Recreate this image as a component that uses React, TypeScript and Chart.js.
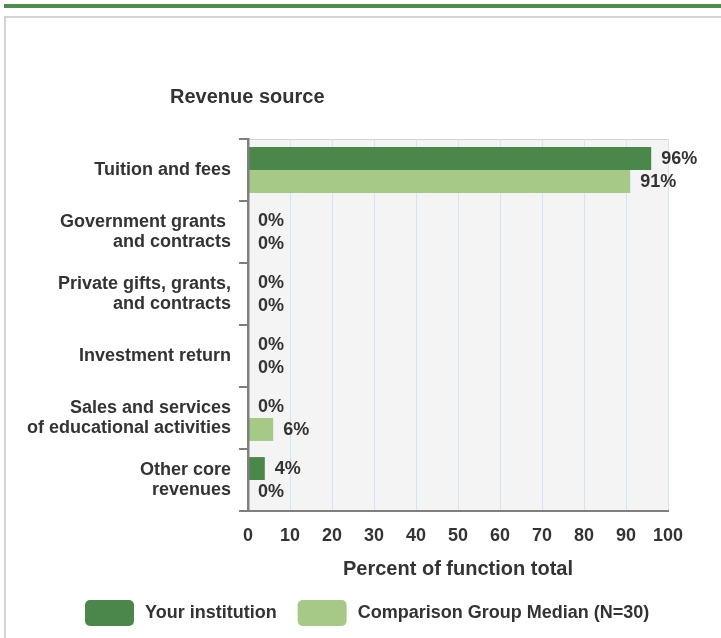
import React, { useEffect, useRef } from "react";
import { Chart, registerables } from "chart.js";

Chart.register(...registerables);

const categories: (string | string[])[] = [
  "Tuition and fees",
  ["Government grants ", "and contracts"],
  ["Private gifts, grants,", "and contracts"],
  "Investment return",
  ["Sales and services", "of educational activities"],
  ["Other core", "revenues"],
];
const institutionValues = [96, 0, 0, 0, 0, 4];
const comparisonValues = [91, 0, 0, 0, 6, 0];
const seriesNames = ["Your institution", "Comparison Group Median (N=30)"];
const xMin = 0;
const xMax = 100;
const xStep = 10;
const chartTitle = "Revenue source";
const axisTitle = "Percent of function total";

const DARK = "#4b874a";
const LIGHT = "#a6c987";
const TEXT = "#333333";
const FONT = "'Liberation Sans', Arial, Helvetica, sans-serif";
const LABEL_SIZE = 18;

export default function App() {
  const ref = useRef<HTMLCanvasElement | null>(null);

  useEffect(() => {
    document.body.style.margin = "0";
    const canvas = ref.current;
    if (!canvas) return;

    const decor = {
      id: "decor",
      beforeDraw(chart: any) {
        const { ctx, chartArea: a } = chart;
        ctx.save();
        ctx.fillStyle = "#f4f4f4";
        ctx.fillRect(a.left, a.top, a.right - a.left, a.bottom - a.top);
        ctx.strokeStyle = "#d2d2d2";
        ctx.lineWidth = 1;
        ctx.beginPath();
        ctx.moveTo(a.left, a.top + 0.5);
        ctx.lineTo(a.right, a.top + 0.5);
        ctx.stroke();
        ctx.restore();
      },
      afterDatasetsDraw(chart: any) {
        const { ctx } = chart;
        ctx.save();
        ctx.font = `bold ${LABEL_SIZE}px ${FONT}`;
        ctx.fillStyle = TEXT;
        ctx.textAlign = "left";
        ctx.textBaseline = "middle";
        chart.data.datasets.forEach((ds: any, di: number) => {
          const meta = chart.getDatasetMeta(di);
          meta.data.forEach((bar: any, i: number) => {
            const v = ds.data[i];
            ctx.fillText(`${v}%`, bar.x + 10, bar.y + 1);
          });
        });
        ctx.restore();
      },
      afterDraw(chart: any) {
        const { ctx } = chart;
        ctx.save();
        ctx.fillStyle = TEXT;
        ctx.font = `bold 20px ${FONT}`;
        ctx.textAlign = "left";
        ctx.textBaseline = "middle";
        ctx.fillText(chartTitle, 170, 97);

        // legend
        ctx.font = `bold ${LABEL_SIZE}px ${FONT}`;
        let x = 85;
        const y = 600;
        chart.data.datasets.forEach((ds: any) => {
          ctx.fillStyle = ds.backgroundColor;
          ctx.beginPath();
          (ctx as any).roundRect(x, y, 49, 26, 5);
          ctx.fill();
          x += 49 + 11;
          ctx.fillStyle = TEXT;
          ctx.fillText(ds.label, x, y + 13);
          x += ctx.measureText(ds.label).width + 21;
        });
        ctx.restore();
      },
    };

    const chart = new Chart(canvas, {
      type: "bar",
      data: {
        labels: categories,
        datasets: [
          {
            label: seriesNames[0],
            data: institutionValues,
            backgroundColor: DARK,
            categoryPercentage: 0.74,
            barPercentage: 1,
          },
          {
            label: seriesNames[1],
            data: comparisonValues,
            backgroundColor: LIGHT,
            categoryPercentage: 0.74,
            barPercentage: 1,
          },
        ],
      },
      options: {
        indexAxis: "y",
        responsive: false,
        animation: false,
        layout: { padding: { left: 0, top: 139, right: 53, bottom: 57 } },
        plugins: {
          legend: { display: false },
          tooltip: { enabled: false },
          title: { display: false },
        },
        scales: {
          x: {
            min: xMin,
            max: xMax,
            ticks: {
              stepSize: xStep,
              color: TEXT,
              font: { family: FONT, size: LABEL_SIZE, weight: "bold" },
              padding: 14,
              maxRotation: 0,
            },
            grid: {
              color: "#d6e4f1",
              lineWidth: 1,
              drawTicks: false,
            },
            border: { display: true, color: "#7f7f7f", width: 2 },
            title: {
              display: true,
              text: axisTitle,
              color: TEXT,
              font: { family: FONT, size: 20, weight: "bold" },
              padding: { top: 0, bottom: 0 },
            },
            afterFit(scale: any) {
              scale.height = 70;
            },
          },
          y: {
            ticks: {
              color: TEXT,
              font: { family: FONT, size: LABEL_SIZE, weight: "bold", lineHeight: 1.11 },
              padding: 8,
            },
            grid: {
              drawOnChartArea: false,
              drawTicks: true,
              tickLength: 9,
              color: "#7f7f7f",
              lineWidth: 2,
            },
            border: { display: true, color: "#7f7f7f", width: 2.5, z: 1 },
            afterFit(scale: any) {
              scale.width = 248;
            },
          },
        },
      } as any,
      plugins: [decor],
    });

    return () => chart.destroy();
  }, []);

  return (
    <div
      style={{
        position: "fixed",
        left: 0,
        top: 0,
        width: 721,
        height: 638,
        overflow: "hidden",
        background: "#ffffff",
      }}
    >
      <div
        style={{
          position: "absolute",
          left: 4,
          top: 4,
          width: 717,
          height: 3.5,
          background: "#4f8a4f",
        }}
      />
      <div
        style={{
          position: "absolute",
          left: 4,
          top: 16,
          width: 740,
          height: 660,
          border: "2px solid #d3d3d3",
          boxSizing: "border-box",
        }}
      />
      <canvas
        ref={ref}
        width={721}
        height={638}
        style={{ position: "absolute", left: 0, top: 0, width: 721, height: 638 }}
      />
    </div>
  );
}
